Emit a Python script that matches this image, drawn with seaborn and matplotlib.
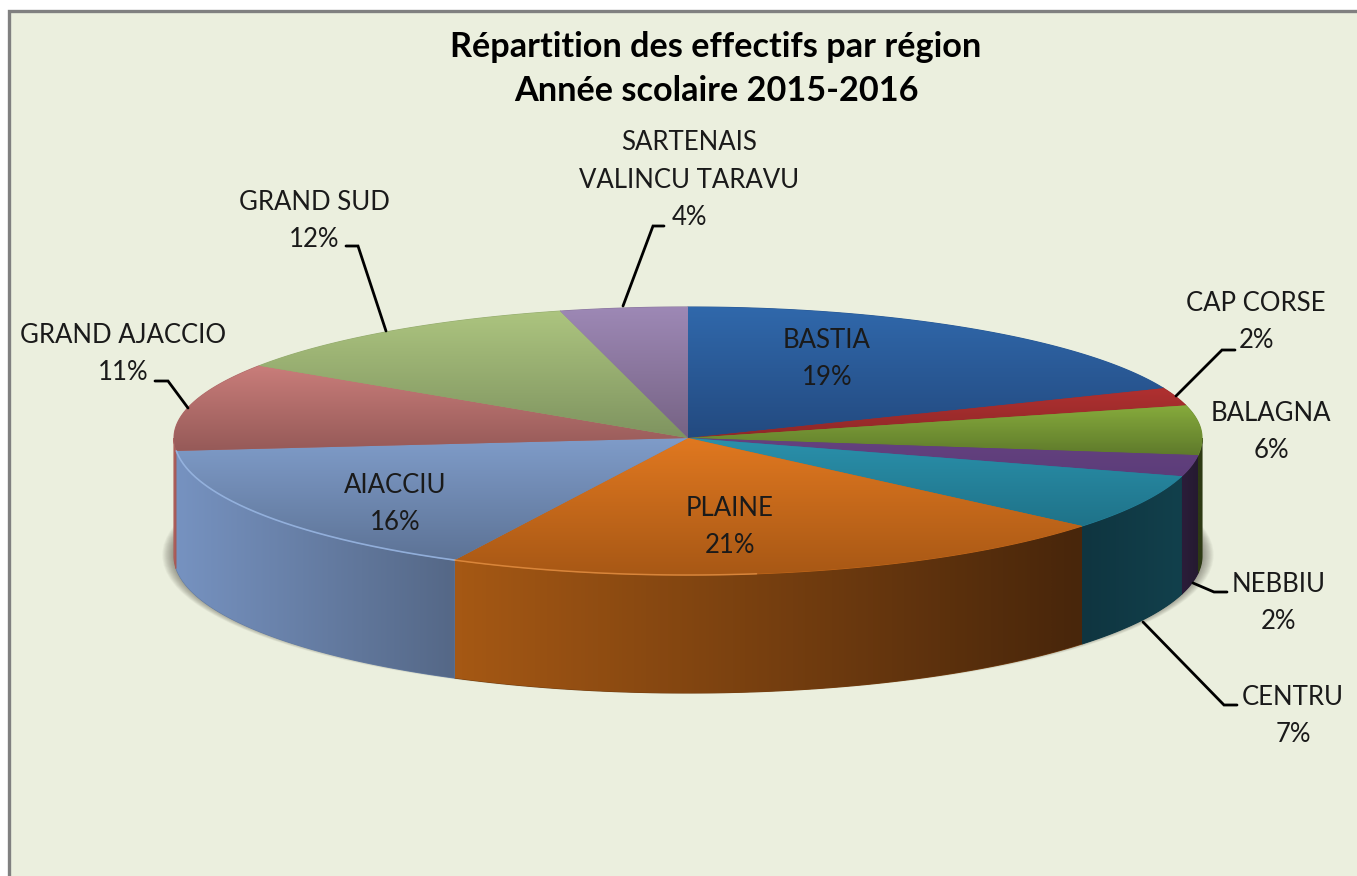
import numpy as np
import matplotlib
matplotlib.use('Agg')
import matplotlib.pyplot as plt
from matplotlib.patches import Polygon, Ellipse, Rectangle
import seaborn as sns

# Data
regions = ['BASTIA', 'CAP CORSE', 'BALAGNA', 'NEBBIU', 'CENTRU', 'PLAINE', 'AIACCIU',
           'GRAND AJACCIO', 'GRAND SUD', 'SARTENAIS\nVALINCU TARAVU']
percents = [19, 2, 6, 2, 7, 21, 16, 11, 12, 4]
# slice sizes as measured on the picture, the printed percents are rounded
shares = [18.8, 2.2, 6.0, 2.5, 6.6, 21.4, 16.0, 10.8, 11.7, 4.0]

# Colours: top face (upper, lower), side wall (left, right)
top_colors = [('#3068ab', '#234a80'), ('#b03030', '#8f2828'), ('#86ab3c', '#5f7a2b'),
              ('#65417f', '#5c3d7a'), ('#2a90ab', '#1f7389'), ('#e07820', '#a85815'),
              ('#7f9cc9', '#5d7396'), ('#c97d7a', '#965a58'), ('#acc47f', '#7f9460'),
              ('#9d88b5', '#766384')]
wall_colors = [('#234a80', '#234a80'), ('#6f2020', '#6f2020'), ('#2e3a14', '#2e3a14'),
               ('#2b1d3a', '#251a30'), ('#0f3540', '#12404c'), ('#a55814', '#48260b'),
               ('#7692c0', '#556887'), ('#b0605c', '#a05652'), ('#7f9460', '#7f9460'),
               ('#766384', '#766384')]

# Label positions (x centre, y centre), in pixels
label_pos = [(827, 359), (1256, 322), (1271, 432), (1279, 603), (1293, 716),
             (730, 527), (395, 504), (123, 354), (314, 221), (689, 180)]

# Leader lines
leaders = {
    'GRAND SUD': [(346, 246), (358, 246), (386, 331)],
    'SARTENAIS': [(664, 226), (653, 226), (623, 306)],
    'GRAND AJACCIO': [(155, 381), (168, 381), (188, 408)],
    'CAP CORSE': [(1235, 350), (1222, 350), (1176, 396)],
    'NEBBIU': [(1227, 592), (1214, 592), (1193, 583)],
    'CENTRU': [(1237, 705), (1224, 705), (1143, 622)],
}

# Geometry of the pie
CX, CY = 688, 438
RX = 514
RY_BACK, RY_FRONT = 131, 137
DEPTH = 118
BG = '#ebefde'


def rim(theta):
    # theta is clockwise from the top of the pie
    cos = np.cos(theta)
    ry = np.where(cos > 0, RY_BACK, RY_FRONT)
    return CX + RX * np.sin(theta), CY - ry * cos


def gradient_fill(ax, xy, colors, vertical, zorder):
    # draw a gradient clipped to the polygon xy, on a plain underlay to hide the seams
    cmap = sns.blend_palette(colors, 64, as_cmap=True)
    xmin, ymin = xy.min(axis=0)
    xmax, ymax = xy.max(axis=0)
    grad = np.linspace(0, 1, 64)
    grad = grad[:, None] if vertical else grad[None, :]
    mid = cmap(0.5)
    under = Polygon(xy, closed=True, facecolor=mid, edgecolor=mid, lw=0.8, zorder=zorder - 0.5)
    ax.add_patch(under)
    im = ax.imshow(grad, cmap=cmap, vmin=0, vmax=1, aspect='auto', origin='upper',
                   extent=(xmin, xmax, ymax, ymin), zorder=zorder, interpolation='bilinear')
    patch = Polygon(xy, closed=True, transform=ax.transData, facecolor='none', edgecolor='none')
    ax.add_patch(patch)
    im.set_clip_path(patch)


sns.set_theme(style='white')
plt.rcParams['font.family'] = ['Lato', 'DejaVu Sans']

fig = plt.figure(figsize=(13.57, 8.76), dpi=100)
ax = fig.add_axes([0, 0, 1, 1])

# Chart area
ax.add_patch(Rectangle((8, 10), 1349, 866, facecolor=BG, edgecolor='none', zorder=0))
ax.plot([8.5, 8.5, 1357], [876, 10.5, 10.5], color='#808080', lw=2.4, zorder=1,
        solid_joinstyle='miter')

# Soft shadow under the pie
for i in range(14):
    grow = 13 - i
    ax.add_patch(Ellipse((CX, 555), 2 * (RX + grow * 0.9), 2 * (135 + grow * 0.3),
                         facecolor='#3c3c30', edgecolor='none', alpha=0.045, zorder=2))

edges = np.cumsum([0] + shares) / sum(shares) * 2 * np.pi

# Side walls, only the front half of the pie shows them
for i in range(len(shares)):
    t0, t1 = max(edges[i], np.pi / 2), min(edges[i + 1], 3 * np.pi / 2)
    if t1 <= t0:
        continue
    x, y = rim(np.linspace(t0, t1, 120))
    wall = np.vstack([np.column_stack([x, y]), np.column_stack([x[::-1], y[::-1] + DEPTH])])
    gradient_fill(ax, wall, wall_colors[i], False, 3)

# Top faces
for i in range(len(shares)):
    x, y = rim(np.linspace(edges[i], edges[i + 1], 160))
    face = np.vstack([[CX, CY], np.column_stack([x, y])])
    gradient_fill(ax, face, top_colors[i], True, 4)

# Light edge along the front rim
x, y = rim(np.linspace(edges[6], edges[7], 160))
ax.plot(x, y, color='#9dbbe8', lw=1.2, alpha=0.8, zorder=5)
x, y = rim(np.linspace(edges[5] + 0.55 * (edges[6] - edges[5]), edges[6], 80))
ax.plot(x, y, color='#e9964a', lw=1.1, alpha=0.7, zorder=5)

# Leader lines
for pts in leaders.values():
    xs, ys = zip(*pts)
    ax.plot(xs, ys, color='black', lw=2.0, zorder=6, solid_joinstyle='miter')

# Labels
for name, pct, (lx, ly) in zip(regions, percents, label_pos):
    ax.text(lx, ly, f'{name}\n{pct}%', ha='center', va='center', fontsize=18.5,
            color='#1a1a1a', linespacing=1.63, zorder=7)

ax.text(716, 69, 'Répartition des effectifs par région\nAnnée scolaire 2015-2016',
        ha='center', va='center', fontsize=24.7, fontweight='bold', color='black',
        linespacing=1.45, zorder=7)

ax.set_xlim(0, 1357)
ax.set_ylim(876, 0)
ax.axis('off')

fig.savefig('out.png', dpi=100, facecolor='white')
